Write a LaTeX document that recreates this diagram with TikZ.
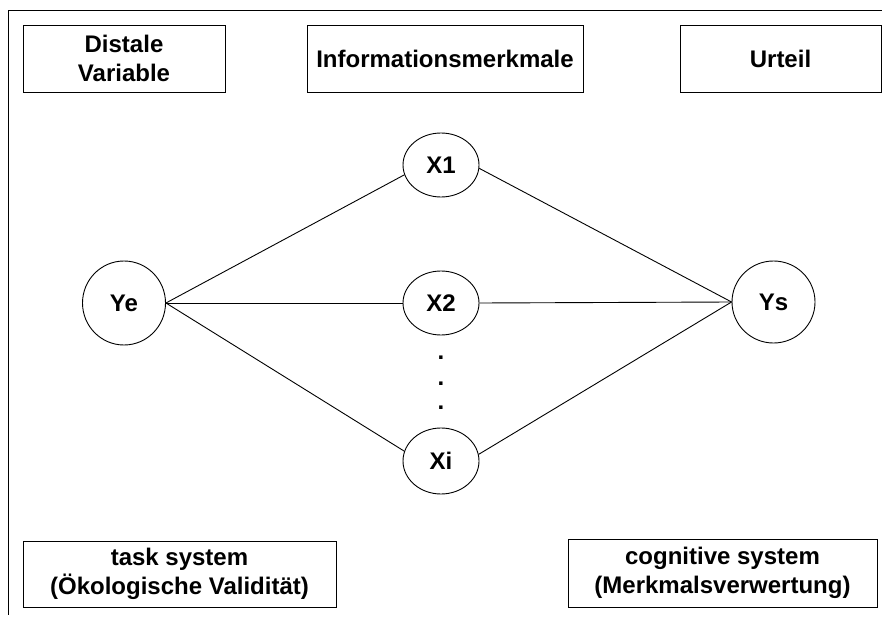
\documentclass[tikz,border=0pt]{standalone}
\usepackage{fontspec}
\setmainfont{Liberation Sans}
\usetikzlibrary{shapes.geometric}
\begin{document}
\begin{tikzpicture}[x=1pt,y=-1pt,
  lbl/.style={font=\fontsize{24}{29}\selectfont\bfseries, align=center},
  box/.style={lbl, draw, line width=0.9pt, inner sep=0pt, rectangle},
  var/.style={lbl, draw, line width=0.9pt, ellipse, inner sep=0pt},
  link/.style={line width=0.9pt},
  dotm/.style={font=\fontsize{24}{28}\selectfont\bfseries, inner sep=0pt}]
\useasboundingbox (0,0) rectangle (882,617);
% frame lines
\coordinate (tl) at (8,10);
\coordinate (tr) at (882,10);
\coordinate (bl) at (8,615);
\draw[link] (tr) -- (tl) -- (bl);
% boxes
\node[box, minimum width=202pt, minimum height=67pt] (dv) at (124,58.5) {Distale\\Variable};
\node[box, minimum width=276pt, minimum height=67pt] (im) at (445,58.5) {Informationsmerkmale};
\node[box, minimum width=201pt, minimum height=67pt] (ur) at (780.5,58.5) {Urteil};
\node[box, minimum width=313pt, minimum height=66pt] (ts) at (179.5,574) {task system\\(Ökologische Validität)};
\node[box, minimum width=309pt, minimum height=68pt] (cs) at (722.5,573) {cognitive system\\(Merkmalsverwertung)};
% variables
\node[var, minimum width=83pt, minimum height=84pt] (ye) at (124,303) {Ye};
\node[var, minimum width=83pt, minimum height=82pt] (ys) at (773.5,302) {Ys};
\node[var, minimum width=76pt, minimum height=64pt] (x1) at (441,165) {X1};
\node[var, minimum width=76pt, minimum height=64pt] (x2) at (441,303) {X2};
\node[var, minimum width=76pt, minimum height=66pt] (xi) at (441,461) {Xi};
% dots
\node[dotm] (d1) at (441,358) {.};
\node[dotm] (d2) at (441,384) {.};
\node[dotm] (d3) at (441,408) {.};
% connectors
\draw[link] (ye.east) -- (x1.195);
\draw[link] (ye.east) -- (x2.west);
\draw[link] (ye.east) -- (xi.165);
\draw[link] (x1.-5) -- (ys.west);
\draw[link] (x2.east) -- (ys.west);
\draw[link] (xi.10) -- (ys.west);
\end{tikzpicture}
\end{document}
